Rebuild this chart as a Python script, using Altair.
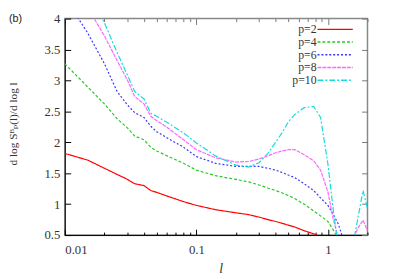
import altair as alt
import pandas as pd

series = ["p=2", "p=4", "p=6", "p=8", "p=10"]
colors = ["#ff0000", "#22cc22", "#3333ff", "#ff66ff", "#11dddd"]
dashes = [[1, 0], [3, 2], [2, 2], [4, 1], [6, 2, 2, 2]]
panel_label = ["(b)"]

x_base = [0.01, 0.015, 0.02, 0.025, 0.03, 0.034, 0.04, 0.045, 0.05, 0.06, 0.08, 0.1,
          0.14, 0.2, 0.25, 0.3, 0.35, 0.4, 0.45, 0.5, 0.56, 0.66, 0.78, 0.88, 1.0]
x_tail = [1.1, 1.2, 1.3, 1.4, 1.6, 1.7, 1.85, 2.0]

y_p2 = [1.82, 1.71, 1.58, 1.48, 1.40, 1.33, 1.30, 1.22, 1.19, 1.13, 1.04, 0.98,
        0.91, 0.86, 0.83, 0.79, 0.75, 0.72, 0.69, 0.66, 0.63, 0.57, 0.52, 0.47, 0.40]
y_p4 = [3.27, 2.89, 2.62, 2.38, 2.23, 2.10, 2.04, 1.92, 1.86, 1.78, 1.66, 1.55,
        1.46, 1.40, 1.36, 1.31, 1.26, 1.22, 1.18, 1.14, 1.09, 1.00, 0.89, 0.81, 0.72,
        0.58, 0.45]
y_p6 = [4.34, 3.76, 3.27, 2.82, 2.60, 2.48, 2.40, 2.26, 2.17, 2.07, 1.92, 1.77,
        1.66, 1.61, 1.61, 1.61, 1.58, 1.55, 1.51, 1.47, 1.43, 1.33, 1.22, 1.10, 0.98,
        0.83, 0.68, 0.45]
y_p8 = [4.9, 4.17, 3.72, 3.32, 3.00, 2.74, 2.62, 2.42, 2.35, 2.24, 2.04, 1.88,
        1.75, 1.68, 1.69, 1.73, 1.78, 1.83, 1.86, 1.88, 1.88, 1.80, 1.70, 1.55, 1.20,
        0.75, 0.45, 0.30, 0.25, 0.50, 0.62, 0.74, 0.57]
y_p10 = [5.3, 4.45, 3.93, 3.45, 3.08, 2.82, 2.70, 2.47, 2.42, 2.32, 2.15, 1.99,
         1.78, 1.63, 1.60, 1.67, 1.82, 2.00, 2.16, 2.33, 2.45, 2.56, 2.58, 2.40, 1.65,
         0.90, 0.30, 0.10, 0.10, 0.50, 0.80, 1.22, 0.93]

x_ticks_major = [0.01, 0.1, 1]
x_ticks_minor = [0.02, 0.03, 0.04, 0.05, 0.06, 0.07, 0.08, 0.09,
                 0.2, 0.3, 0.4, 0.5, 0.6, 0.7, 0.8, 0.9, 2]
y_ticks = [0.5, 1, 1.5, 2, 2.5, 3, 3.5, 4]

rows = []
for name, ys in zip(series, [y_p2, y_p4, y_p6, y_p8, y_p10]):
    xs = (x_base + x_tail)[:len(ys)]
    for i, (xv, yv) in enumerate(zip(xs, ys)):
        rows.append({"l": xv, "v": yv, "p": name, "i": i})
df = pd.DataFrame(rows)

SERIF = "Liberation Serif, Times New Roman, DejaVu Serif, serif"
xscale = alt.Scale(type="log", domain=[0.01, 2], nice=False)
yscale = alt.Scale(domain=[0.5, 4], nice=False, zero=False)

legend = alt.Legend(
    title=None, orient="none", legendX=239, legendY=4, padding=0,
    symbolType="M2,0H8", symbolSize=144, symbolStrokeWidth=1.5,
    rowPadding=0, labelAlign="right", labelOffset=4, labelFont=SERIF,
    labelFontSize=12, labelColor="#333", labelBaseline="middle",
)

lines = alt.Chart(df).mark_line(clip=True, strokeWidth=1.2).encode(
    x=alt.X("l:Q", scale=xscale, axis=alt.Axis(
        orient="bottom", values=x_ticks_major, format="~g", ticks=False, tickSize=0,
        labelPadding=9, labelFont=SERIF, labelFontSize=13, labelColor="#333",
        domainColor="#000", grid=False, title="l", titleFont=SERIF,
        titleFontStyle="italic", titleFontWeight="normal", titleFontSize=14,
        titleX=159, titleY=34, titleBaseline="middle", titleColor="#333")),
    y=alt.Y("v:Q", scale=yscale, axis=alt.Axis(
        orient="left", values=y_ticks, format="~g", ticks=False, tickSize=0,
        labelPadding=5, labelFont=SERIF, labelFontSize=13, labelColor="#333",
        domainColor="#000", grid=False, title="d log Sᴮₚ(l)/d log l",
        titleFont=SERIF, titleFontWeight="normal", titleFontSize=11.5, titleX=-52,
        titleY=107, titleAngle=270, titleBaseline="middle", titleAlign="center",
        titleColor="#333")),
    color=alt.Color("p:N", scale=alt.Scale(domain=series, range=colors), legend=legend),
    strokeDash=alt.StrokeDash("p:N", scale=alt.Scale(domain=series, range=dashes),
                              legend=legend),
    order="i:Q",
)


def tick_axis(orient, values, size, color):
    return alt.Axis(orient=orient, values=values, labels=False, domain=False,
                    ticks=True, tickSize=size, offset=-size, tickColor=color,
                    tickWidth=1, grid=False, title=None)


def tick_layer(xaxis, yaxis):
    return alt.Chart(df).mark_point(opacity=0).encode(
        x=alt.X("l:Q", scale=xscale, axis=xaxis),
        y=alt.Y("v:Q", scale=yscale, axis=yaxis),
    )


t1 = tick_layer(tick_axis("bottom", x_ticks_major, 6, "#000"),
                tick_axis("left", y_ticks, 6, "#000"))
t2 = tick_layer(tick_axis("bottom", x_ticks_minor, 3, "#000"),
                tick_axis("right", y_ticks, 6, "#777"))
t3 = tick_layer(tick_axis("top", x_ticks_major, 6, "#777"), None)
t4 = tick_layer(tick_axis("top", x_ticks_minor, 3, "#777"), None)

label = alt.Chart(pd.DataFrame({"t": panel_label})).mark_text(
    font="Liberation Sans, Arial, sans-serif", fontSize=11, color="#222",
    align="left", baseline="middle",
).encode(text="t:N", x=alt.value(-57), y=alt.value(0))

chart = alt.layer(lines, t1, t2, t3, t4, label).resolve_axis(
    x="independent", y="independent"
).properties(
    width=309, height=221,
    padding={"left": 58, "top": 8, "right": 24, "bottom": 40},
    autosize=alt.AutoSizeParams(type="none"),
).configure_view(stroke="#888", strokeWidth=1.5)

chart.save("out.html", embed_options={"renderer": "svg", "actions": False})
